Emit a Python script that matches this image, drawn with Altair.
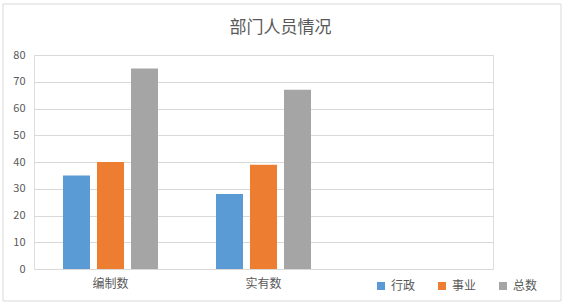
import altair as alt
import pandas as pd

categories = ["编制数", "实有数"]
series = ["行政", "事业", "总数"]
xingzheng = [35, 28]
shiye = [40, 39]
zongshu = [75, 67]
colors = ["#5B9BD5", "#ED7D31", "#A5A5A5"]
y_ticks = [0, 10, 20, 30, 40, 50, 60, 70, 80]
x_domain = categories + [" "]

rows = []
for i, c in enumerate(categories):
    for s, vals in zip(series, [xingzheng, shiye, zongshu]):
        rows.append({"cat": c, "series": s, "value": vals[i]})
df = pd.DataFrame(rows)

FONT = "Noto Sans CJK SC"
W, H = 459, 214

bars = alt.Chart(df).mark_bar().encode(
    x=alt.X("cat:N", scale=alt.Scale(domain=x_domain, paddingInner=0.0, paddingOuter=0.0),
            sort=x_domain,
            axis=alt.Axis(title=None, labelAngle=0, domain=False, ticks=False,
                          labelFontSize=12, labelColor="#595959", labelFont=FONT,
                          labelPadding=9)),
    xOffset=alt.XOffset("series:N", sort=series,
                        scale=alt.Scale(domain=series, paddingInner=0.206, paddingOuter=0.853)),
    y=alt.Y("value:Q", scale=alt.Scale(domain=[0, 80], nice=False),
            axis=alt.Axis(title=None, values=y_ticks, domain=False, ticks=False,
                          labelFontSize=11, labelColor="#595959", labelFont=FONT,
                          gridColor="#D9D9D9", gridWidth=1, labelPadding=9)),
    color=alt.Color("series:N", sort=series,
                    scale=alt.Scale(domain=series, range=colors),
                    legend=alt.Legend(title=None, orient="none", direction="horizontal",
                                      legendX=341, legendY=225, symbolType="square",
                                      symbolSize=64, symbolStrokeWidth=0,
                                      labelFontSize=12, labelColor="#595959",
                                      labelFont=FONT, gridAlign="all",
                                      columnPadding=20, labelOffset=4)),
)

border = alt.Chart(pd.DataFrame({"a": [0]})).mark_rect(
    fill="transparent", stroke="#D9D9D9", strokeWidth=1, clip=False
).encode(
    x=alt.value(-31), x2=alt.value(527), y=alt.value(-51), y2=alt.value(246)
)

chart = alt.layer(border, bars).properties(
    width=W, height=H,
    title=alt.Title("部门人员情况", fontSize=17, font=FONT, fontWeight="normal",
                    color="#595959", anchor="middle", dx=17, offset=-33),
    autosize=alt.AutoSizeParams(type="none"),
    padding={"left": 34, "top": 55, "right": 73, "bottom": 37},
).configure_view(stroke=None).configure(background="white")

chart.save("out.html", embed_options={"renderer": "svg", "actions": False})
